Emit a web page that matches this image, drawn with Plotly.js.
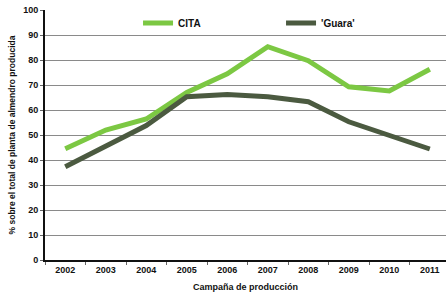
<!DOCTYPE html>
<html><head><meta charset="utf-8">
<script src="https://cdn.plot.ly/plotly-3.0.1.min.js"></script>
<style>html,body{margin:0;padding:0;background:#fff;}</style>
</head><body>
<div id="chart" style="width:446px;height:299px;"></div>
<script>
const years = ["2002","2003","2004","2005","2006","2007","2008","2009","2010","2011"];
const cita = [44.5, 52, 56.4, 67, 74.5, 85.3, 79.7, 69.3, 67.6, 76.3];
const guara = [37.3, 45.5, 53.8, 65.3, 66.2, 65.3, 63.3, 55.3, 50, 44.4];
const yTicks = [0,10,20,30,40,50,60,70,80,90,100];

const font = {family: "Liberation Sans, Arial, sans-serif", size: 9, color: "#111"};
const data = [
  {x: years, y: cita, name: "CITA", type: "scatter", mode: "lines",
   line: {color: "#7cc843", width: 5}},
  {x: years, y: guara, name: "'Guara'", type: "scatter", mode: "lines",
   line: {color: "#4b5a40", width: 5}}
];
const layout = {
  width: 446, height: 299,
  margin: {l: 45, r: 0, t: 10, b: 39},
  paper_bgcolor: "#fff", plot_bgcolor: "#fff",
  font: font,
  showlegend: true,
  legend: {orientation: "h", x: 0.232, xanchor: "left", y: 0.948, yanchor: "middle",
    bgcolor: "rgba(0,0,0,0)", font: {family: font.family, size: 10, color: "#111", weight: "bold"},
    entrywidth: 98, entrywidthmode: "pixels", itemwidth: 30, tracegroupgap: 0},
  xaxis: {type: "category", range: [-0.5, 9.4], showgrid: false, zeroline: false,
    showline: true, linecolor: "#111", linewidth: 2,
    ticks: "outside", tickson: "boundaries", ticklen: 3, tickcolor: "#666",
    tickfont: {family: font.family, size: 9, color: "#111", weight: "bold"},
    title: {text: "Campaña de producción", standoff: 10,
      font: {family: font.family, size: 9, color: "#111", weight: "bold"}}},
  yaxis: {range: [0, 100], tickvals: yTicks, ticktext: yTicks.map(String),
    showgrid: true, gridcolor: "#8a8a8a", gridwidth: 1, zeroline: false,
    showline: true, linecolor: "#111", linewidth: 2,
    ticks: "outside", ticklen: 3, tickcolor: "#666",
    tickfont: {family: font.family, size: 9, color: "#111", weight: "bold"},
    title: {text: "% sobre el total de planta de almendro producida", standoff: 6,
      font: {family: font.family, size: 8.5, color: "#111", weight: "bold"}}}
};
Plotly.newPlot("chart", data, layout, {displayModeBar: false, staticPlot: true});
</script>
</body></html>
